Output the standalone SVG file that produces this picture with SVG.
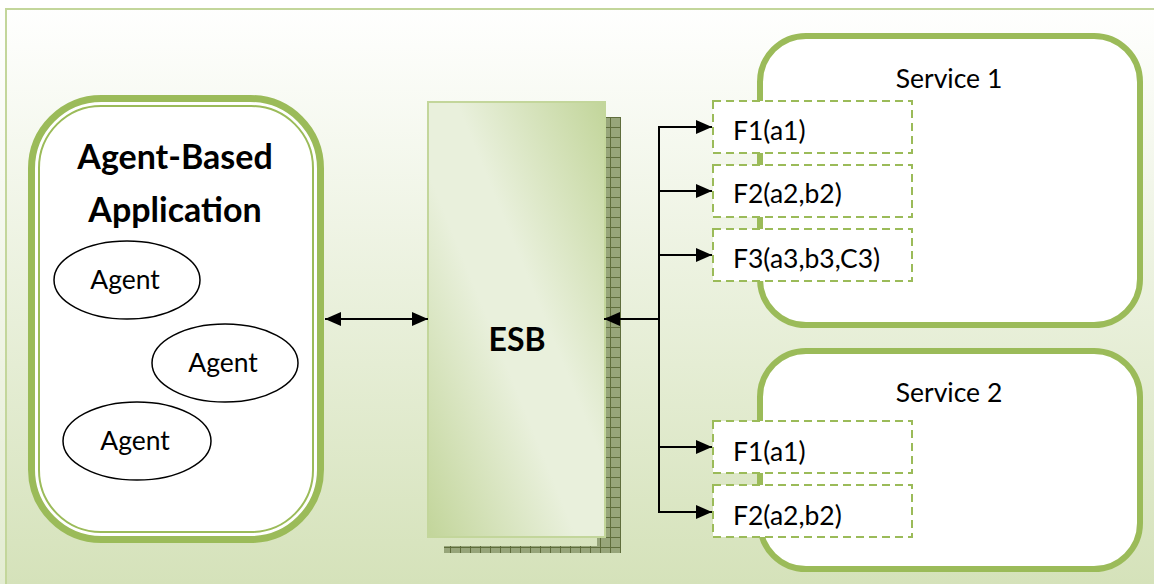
<svg xmlns="http://www.w3.org/2000/svg" width="1154" height="584" viewBox="0 0 1154 584">
  <defs>
    <linearGradient id="bg" x1="0" y1="0" x2="0" y2="1">
      <stop offset="0" stop-color="#ffffff"/>
      <stop offset="0.08" stop-color="#fcfdfa"/>
      <stop offset="1" stop-color="#d5e2ba"/>
    </linearGradient>
    <linearGradient id="esbFill" x1="1" y1="0" x2="0" y2="1">
      <stop offset="0" stop-color="#c2d59a"/>
      <stop offset="0.42" stop-color="#e9f0dc"/>
      <stop offset="0.58" stop-color="#e9f0dc"/>
      <stop offset="1" stop-color="#c2d59a"/>
    </linearGradient>
    <pattern id="hatch" x="0" y="117" width="10" height="10" patternUnits="userSpaceOnUse">
      <rect width="10" height="10" fill="#97a57a"/>
      <path d="M0 0.5H10M0.5 0V10" stroke="#5f6d3c" stroke-width="1"/>
    </pattern>
    <marker id="head" viewBox="0 0 16 14" refX="16" refY="7" markerWidth="16" markerHeight="14" markerUnits="userSpaceOnUse" orient="auto-start-reverse">
      <path d="M0 0L16 7L0 14Z" fill="#000"/>
    </marker>
  </defs>
  <style>
    .lbl { font-family: Lato, "Liberation Sans", sans-serif; fill: #000; }
    .title { font-weight: bold; font-size: 34px; text-anchor: middle; }
    .esb { font-weight: bold; font-size: 32px; text-anchor: middle; }
    .agent { font-size: 26.5px; text-anchor: middle; }
    .fn { font-size: 26.5px; }
    .svc { font-size: 26.5px; text-anchor: middle; }
    .agentShape { fill: none; stroke: #000; stroke-width: 1.5; }
    .fbox { fill: #fff; stroke: #9bbb59; stroke-width: 2; stroke-dasharray: 8 5; }
    .svcBox { fill: #fff; stroke: #9bbb59; stroke-width: 6; }
    .wire { fill: none; stroke: #000; stroke-width: 2; }
  </style>

  <!-- page background and frame -->
  <rect x="0" y="0" width="1154" height="584" fill="url(#bg)"/>
  <rect x="0" y="0" width="1154" height="8" fill="#ffffff"/>
  <rect x="0" y="8" width="5" height="576" fill="#ffffff" opacity="0.35"/>
  <rect x="6" y="9" width="1160" height="590" fill="none" stroke="#c3d69b" stroke-width="2"/>

  <!-- Agent-based application -->
  <g id="agent-app">
    <rect x="31.5" y="98.5" width="289" height="441" rx="70" fill="#fff" stroke="#9bbb59" stroke-width="7"/>
    <rect x="39" y="106" width="274" height="426" rx="62" fill="none" stroke="#9bbb59" stroke-width="2"/>
    <text class="lbl title" x="175" y="169">Agent-Based</text>
    <text class="lbl title" x="175" y="222">Application</text>
    <g id="agent-1">
      <ellipse class="agentShape" cx="127" cy="280" rx="73" ry="39"/>
      <text class="lbl agent" x="125" y="289">Agent</text>
    </g>
    <g id="agent-2">
      <ellipse class="agentShape" cx="225" cy="363" rx="73" ry="39"/>
      <text class="lbl agent" x="223" y="372">Agent</text>
    </g>
    <g id="agent-3">
      <ellipse class="agentShape" cx="137" cy="441" rx="74" ry="39"/>
      <text class="lbl agent" x="135" y="450">Agent</text>
    </g>
  </g>

  <!-- ESB -->
  <g id="esb">
    <path d="M606 117H621V553H444V546H597V538H606Z" fill="url(#hatch)"/>
    <rect x="428" y="102" width="177" height="435" fill="url(#esbFill)" stroke="#c3d69b" stroke-width="2"/>
    <text class="lbl esb" x="517" y="351">ESB</text>
  </g>

  <!-- Service 1 -->
  <g id="service-1">
    <rect class="svcBox" x="760" y="36" width="380" height="289" rx="46"/>
    <text class="lbl svc" x="949" y="88">Service 1</text>
    <g id="s1-f1">
      <rect class="fbox" x="713" y="101" width="199" height="52"/>
      <text class="lbl fn" x="733" y="140">F1(a1)</text>
    </g>
    <g id="s1-f2">
      <rect class="fbox" x="713" y="165" width="199" height="52"/>
      <text class="lbl fn" x="733" y="203">F2(a2,b2)</text>
    </g>
    <g id="s1-f3">
      <rect class="fbox" x="713" y="229" width="199" height="52"/>
      <text class="lbl fn" x="733" y="268">F3(a3,b3,C3)</text>
    </g>
  </g>

  <!-- Service 2 -->
  <g id="service-2">
    <rect class="svcBox" x="760" y="351" width="380" height="218" rx="46"/>
    <text class="lbl svc" x="949" y="402">Service 2</text>
    <g id="s2-f1">
      <rect class="fbox" x="713" y="421" width="199" height="52"/>
      <text class="lbl fn" x="733" y="461">F1(a1)</text>
    </g>
    <g id="s2-f2">
      <rect class="fbox" x="713" y="485" width="199" height="52"/>
      <text class="lbl fn" x="733" y="525">F2(a2,b2)</text>
    </g>
  </g>

  <!-- connectors -->
  <g id="connectors">
    <line class="wire" x1="325" y1="319" x2="428" y2="319" marker-start="url(#head)" marker-end="url(#head)"/>
    <line class="wire" x1="659" y1="319" x2="604" y2="319" stroke-width="3" marker-end="url(#head)"/>
    <line class="wire" x1="659" y1="126" x2="659" y2="513"/>
    <line class="wire" x1="658" y1="127" x2="712" y2="127" marker-end="url(#head)"/>
    <line class="wire" x1="658" y1="191" x2="712" y2="191" marker-end="url(#head)"/>
    <line class="wire" x1="658" y1="255" x2="712" y2="255" marker-end="url(#head)"/>
    <line class="wire" x1="658" y1="447" x2="712" y2="447" marker-end="url(#head)"/>
    <line class="wire" x1="658" y1="512" x2="712" y2="512" marker-end="url(#head)"/>
  </g>
</svg>
